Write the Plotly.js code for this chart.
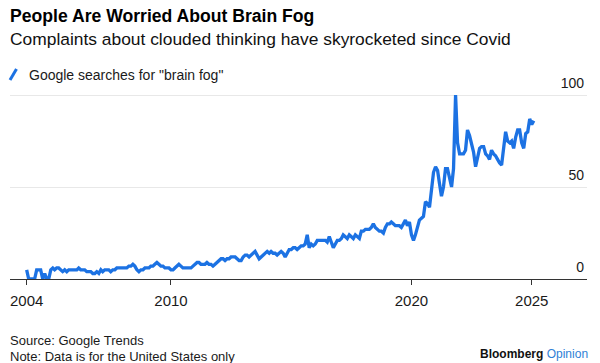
<!DOCTYPE html>
<html>
<head>
<meta charset="utf-8">
<script src="https://cdn.plot.ly/plotly-3.0.1.min.js"></script>
<style>
  html, body { margin: 0; padding: 0; background: #ffffff; }
  #chart { width: 600px; height: 363px; }
</style>
</head>
<body>
<div id="chart"></div>
<script>
// Google Trends monthly interest for "brain fog" (United States), Jan 2004 - Feb 2025
const years = [2004, 2005, 2006, 2007, 2008, 2009, 2010, 2011, 2012, 2013, 2014,
               2015, 2016, 2017, 2018, 2019, 2020, 2021, 2022, 2023, 2024, 2025];
const v2004 = [5, 0, 0, 0, 0, 5, 5, 5, 0, 3, 0, 0];
const v2005 = [5, 6, 5, 6, 6, 5, 4, 5, 4, 5, 5, 5];
const v2006 = [5, 5, 6, 5, 5, 5, 4, 4, 4, 3, 3, 4];
const v2007 = [3, 5, 4, 5, 5, 5, 4, 5, 5, 6, 6, 6];
const v2008 = [6, 6, 6, 7, 7, 8, 7, 5, 4, 5, 5, 6];
const v2009 = [6, 6, 7, 7, 8, 9, 8, 7, 7, 6, 6, 6];
const v2010 = [5, 5, 6, 7, 8, 7, 6, 6, 6, 6, 6, 7];
const v2011 = [8, 9, 9, 8, 8, 8, 9, 8, 8, 7, 8, 9];
const v2012 = [10, 11, 11, 10, 11, 11, 12, 12, 12, 11, 10, 10];
const v2013 = [12, 13, 13, 12, 13, 14, 15, 13, 11, 12, 13, 14];
const v2014 = [15, 14, 15, 14, 14, 13, 14, 15, 14, 12, 14, 16];
const v2015 = [16, 17, 17, 16, 17, 18, 18, 19, 24, 17, 19, 18];
const v2016 = [19, 21, 21, 21, 21, 21, 20, 23, 20, 17, 19, 21];
const v2017 = [21, 22, 24, 23, 22, 24, 23, 22, 24, 23, 22, 26];
const v2018 = [26, 27, 27, 27, 28, 30, 28, 27, 26, 26, 25, 28];
const v2019 = [30, 30, 31, 30, 29, 29, 29, 28, 30, 32, 29, 31];
const v2020 = [24, 21, 24, 28, 32, 33, 34, 42, 41, 39, 48, 58];
const v2021 = [61, 59, 52, 45, 50, 60, 60, 55, 50, 60, 100, 74];
const v2022 = [68, 68, 68, 70, 81, 78, 73, 69, 61, 66, 71, 72];
const v2023 = [72, 68, 67, 65, 70, 68, 67, 65, 63, 62, 71, 80];
const v2024 = [75, 74, 75, 71, 77, 81, 81, 74, 71, 79, 80, 87];
const v2025 = [84, 86];
const yearValues = [v2004, v2005, v2006, v2007, v2008, v2009, v2010, v2011, v2012, v2013, v2014,
                    v2015, v2016, v2017, v2018, v2019, v2020, v2021, v2022, v2023, v2024, v2025];

const xTickVals = ['2004-01-01', '2010-01-01', '2020-01-01', '2025-01-01'];
const xTickText = ['2004', '2010', '2020', '2025'];
const yTickVals = [0, 50, 100];
const yTickText = ['0', '50', '100'];

const seriesName = 'Google searches for "brain fog"';
const titleText = 'People Are Worried About Brain Fog';
const subtitleText = 'Complaints about clouded thinking have skyrocketed since Covid';
const sourceText = 'Source: Google Trends';
const noteText = 'Note: Data is for the United States only';

// build dates and values
const dates = [];
const values = [];
years.forEach((yr, i) => {
  yearValues[i].forEach((v, m) => {
    dates.push(yr + '-' + String(m + 1).padStart(2, '0') + '-01');
    values.push(v);
  });
});

const BLUE = '#1c72e3';
const FONT = '"Liberation Sans", Arial, Helvetica, sans-serif';

// plot area in pixels: x 10..587, y 93..279 (y range 0..101.1 => 100 at y=95)
const L = 10, R = 587, T = 93, B = 279;
const YMAX = 101.1;
const px = X => (X - L) / (R - L);
const py = Y => (B - Y) / (B - T);

const trace = {
  type: 'scatter',
  mode: 'lines',
  x: dates,
  y: values,
  name: seriesName,
  line: { color: BLUE, width: 3.3, shape: 'linear' },
  cliponaxis: false,
  hoverinfo: 'skip'
};

const layout = {
  width: 600,
  height: 363,
  margin: { l: L, r: 600 - R, t: T, b: 363 - B, pad: 0 },
  paper_bgcolor: '#ffffff',
  plot_bgcolor: '#ffffff',
  showlegend: false,
  font: { family: FONT, color: '#1a1a1a' },
  xaxis: {
    type: 'date',
    range: ['2003-04-23', '2027-04-20'],
    tickvals: xTickVals,
    ticktext: xTickText,
    ticks: 'outside',
    ticklen: 5,
    tickwidth: 1,
    tickcolor: '#333333',
    ticklabelstandoff: 3,
    showline: true,
    linecolor: '#333333',
    linewidth: 1,
    showgrid: false,
    zeroline: false,
    tickfont: { family: FONT, size: 15, color: '#1a1a1a' },
    fixedrange: true
  },
  yaxis: {
    range: [0, YMAX],
    side: 'right',
    tickvals: yTickVals,
    ticktext: yTickText,
    ticks: '',
    ticklabelposition: 'inside top',
    ticklabeloverflow: 'allow',
    ticklabelshift: -2,
    showgrid: true,
    gridcolor: '#e8e8e8',
    gridwidth: 1,
    zeroline: false,
    showline: false,
    tickfont: { family: FONT, size: 14, color: '#1a1a1a' },
    fixedrange: true
  },
  shapes: [
    { type: 'line', xref: 'paper', yref: 'paper',
      x0: px(10), y0: py(80), x1: px(16.5), y1: py(69),
      line: { color: BLUE, width: 3 } }
  ],
  annotations: [
    { xref: 'paper', yref: 'paper', x: px(7.5), y: py(16.5), xanchor: 'left', yanchor: 'middle',
      text: '<b>' + titleText + '</b>', showarrow: false,
      font: { family: FONT, size: 17.6, color: '#000000' } },
    { xref: 'paper', yref: 'paper', x: px(7.5), y: py(38.5), xanchor: 'left', yanchor: 'middle',
      text: subtitleText, showarrow: false,
      font: { family: FONT, size: 17.4, color: '#111111' } },
    { xref: 'paper', yref: 'paper', x: px(26.5), y: py(74.5), xanchor: 'left', yanchor: 'middle',
      text: seriesName, showarrow: false,
      font: { family: FONT, size: 14, color: '#1a1a1a' } },
    { xref: 'paper', yref: 'paper', x: px(7.5), y: py(340.5), xanchor: 'left', yanchor: 'middle',
      text: sourceText, showarrow: false,
      font: { family: FONT, size: 13, color: '#1a1a1a' } },
    { xref: 'paper', yref: 'paper', x: px(7.5), y: py(356.5), xanchor: 'left', yanchor: 'middle',
      text: noteText, showarrow: false,
      font: { family: FONT, size: 13, color: '#1a1a1a' } },
    { xref: 'paper', yref: 'paper', x: px(589.5), y: py(353.5), xanchor: 'right', yanchor: 'middle',
      text: '<b>Bloomberg</b> <span style="color:#2f7fd6">Opinion</span>', showarrow: false,
      font: { family: FONT, size: 12, color: '#111111' } }
  ]
};

Plotly.newPlot('chart', [trace], layout, { staticPlot: true, displayModeBar: false });
</script>
</body>
</html>
